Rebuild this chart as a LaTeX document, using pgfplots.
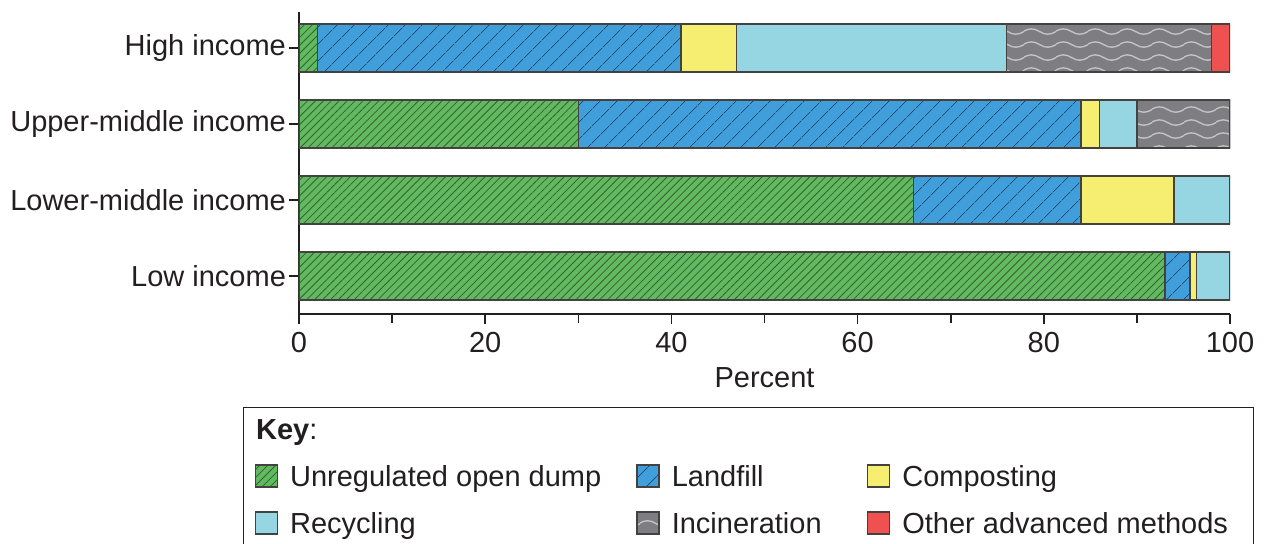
\documentclass[border=0pt]{standalone}
\usepackage{pgfplots}
\pgfplotsset{compat=1.18}
\usepackage{fontspec}
\setmainfont{Liberation Sans}
\usetikzlibrary{patterns.meta}
\definecolor{cgreen}{HTML}{63B960}
\definecolor{hgreen}{HTML}{2E6430}
\definecolor{cblue}{HTML}{409EDA}
\definecolor{hblue}{HTML}{1D4C72}
\definecolor{cyellow}{HTML}{F6EE71}
\definecolor{ccyan}{HTML}{96D6E2}
\definecolor{cgray}{HTML}{7E7E82}
\definecolor{wavec}{HTML}{C4C4C6}
\definecolor{cred}{HTML}{EF5050}
\definecolor{ink}{HTML}{231F20}
\pgfdeclarepattern{
  name=waves,
  type=uncolored,
  bottom left={\pgfpoint{0pt}{0pt}},
  top right={\pgfpoint{16pt}{6.7pt}},
  tile size={\pgfpoint{16pt}{6.7pt}},
  code={
    \pgfsetlinewidth{0.7pt}
    \pgfpathmoveto{\pgfpoint{-0.5pt}{3.35pt}}
    \pgfpathcurveto{\pgfpoint{2.5pt}{5.2pt}}{\pgfpoint{5.2pt}{5.2pt}}{\pgfpoint{8pt}{3.35pt}}
    \pgfpathcurveto{\pgfpoint{10.8pt}{1.5pt}}{\pgfpoint{13.5pt}{1.5pt}}{\pgfpoint{16.5pt}{3.35pt}}
    \pgfusepath{stroke}
  }
}
\newcommand{\lf}{\fontsize{14.5}{17.4}\selectfont}
\begin{document}
\lf
\begin{tikzpicture}
\begin{axis}[
  scale only axis, width=465.5pt, height=151pt,
  xbar stacked, bar width=0.63,
  xmin=0, xmax=100, ymin=-0.5, ymax=3.47,
  axis x line*=bottom, axis y line*=left,
  axis line style={ink, line width=0.8pt},
  xtick={0,20,...,100}, minor xtick={10,30,...,90},
  ytick={0,1,2,3},
  yticklabels={Low income, Lower-middle income, Upper-middle income, High income},
  tick align=outside, major tick length=5pt, minor tick length=4.5pt,
  every tick/.style={ink, line width=0.8pt},
  /pgf/number format/assume math mode=true,
  tick label style={font=\lf, text=ink},
  yticklabel style={xshift=3.5pt},
  xticklabel style={yshift=1pt},
  xlabel={Percent}, xlabel style={font=\lf, text=ink, yshift=2.5pt},
  legend columns=3,
  legend cell align=left,
  legend style={at={(axis description cs:-0.0602,-0.308)}, anchor=north west,
    draw=ink, line width=0.6pt, inner xsep=5.5pt, inner ysep=3.8pt,
    row sep=9pt, column sep=0pt, font=\lf, text=ink,
    /tikz/every odd column/.append style={column sep=6pt},
    nodes={inner sep=0pt}},
  legend image code/.code={\draw[#1] (0pt,-5.5pt) rectangle (11pt,5.5pt);},
]
\coordinate (bl) at (rel axis cs:0,0);
\coordinate (tr) at (rel axis cs:1,1);
\addlegendimage{empty legend}\addlegendentry{\makebox[173pt][l]{\hspace*{-17pt}\textbf{Key}:\strut}}
\addlegendimage{empty legend}\addlegendentry{\makebox[97.5pt][l]{\strut}}
\addlegendimage{empty legend}\addlegendentry{\makebox[170pt][l]{\strut}}
\addplot[preaction={fill=cgreen}, pattern={Lines[angle=45,distance=2.8pt,line width=0.4pt]}, pattern color=hgreen, draw=ink!85, line width=0.8pt]
  coordinates {(93,0) (66,1) (30,2) (2,3)};
\addlegendentry{\makebox[173pt][l]{Unregulated open dump\strut}}
\addplot[preaction={fill=cblue}, pattern={Lines[angle=45,distance=6.5pt,line width=0.4pt]}, pattern color=hblue, draw=ink!85, line width=0.8pt]
  coordinates {(2.7,0) (18,1) (54,2) (39,3)};
\addlegendentry{\makebox[97.5pt][l]{Landfill\strut}}
\addplot[fill=cyellow, draw=ink!85, line width=0.8pt]
  coordinates {(0.7,0) (10,1) (2,2) (6,3)};
\addlegendentry{\makebox[170pt][l]{Composting\strut}}
\addplot[fill=ccyan, draw=ink!85, line width=0.8pt]
  coordinates {(3.6,0) (6,1) (4,2) (29,3)};
\addlegendentry{\makebox[173pt][l]{Recycling\strut}}
\addplot[preaction={fill=cgray}, pattern=waves, pattern color=wavec, draw=ink!85, line width=0.8pt]
  coordinates {(0,0) (0,1) (10,2) (22,3)};
\addlegendentry{\makebox[97.5pt][l]{Incineration\strut}}
\addplot[fill=cred, draw=ink!85, line width=0.8pt]
  coordinates {(0,0) (0,1) (0,2) (2,3)};
\addlegendentry{\makebox[170pt][l]{Other advanced methods\strut}}
\end{axis}
\pgfresetboundingbox
\path[use as bounding box] ([shift={(-149.5pt,-114.5pt)}]bl) rectangle ([shift={(18pt,6pt)}]tr);
\end{tikzpicture}
\end{document}
